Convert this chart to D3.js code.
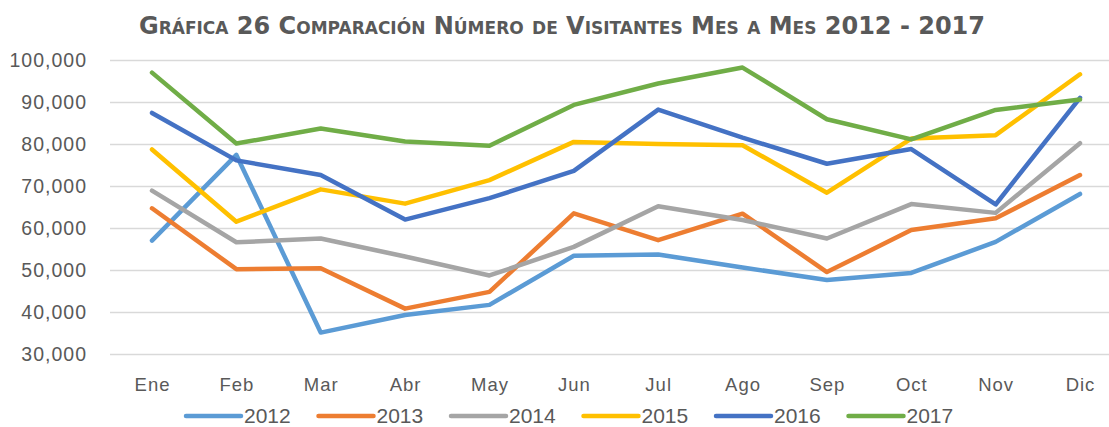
<!DOCTYPE html>
<html>
<head>
<meta charset="utf-8">
<script src="https://cdn.jsdelivr.net/npm/d3@7"></script>
<style>
  body { margin: 0; background: #fff; }
  svg { display: block; }
</style>
</head>
<body>
<div id="chart"></div>
<script>
// data
var months = ["Ene", "Feb", "Mar", "Abr", "May", "Jun", "Jul", "Ago", "Sep", "Oct", "Nov", "Dic"];
var years = ["2012", "2013", "2014", "2015", "2016", "2017"];
var v2012 = [57000, 77400, 35100, 39300, 41700, 53400, 53700, 50600, 47600, 49300, 56700, 68100];
var v2013 = [64700, 50200, 50400, 40800, 44800, 63500, 57100, 63400, 49500, 59500, 62300, 72600];
var v2014 = [68900, 56600, 57500, 53200, 48700, 55500, 65200, 61900, 57500, 65700, 63600, 80200];
var v2015 = [78700, 61500, 69200, 65800, 71400, 80500, 80000, 79700, 68400, 81300, 82100, 96600];
var v2016 = [87400, 76100, 72600, 62000, 67100, 73600, 88200, 81500, 75300, 78800, 65600, 91000];
var v2017 = [97000, 80100, 83700, 80600, 79600, 89300, 94400, 98200, 85900, 81100, 88100, 90600];
var yTicks = [30000, 40000, 50000, 60000, 70000, 80000, 90000, 100000];
var colors = ["#5B9BD5", "#ED7D31", "#A5A5A5", "#FFC000", "#4472C4", "#70AD47"];

var W = 1109, H = 427;
var textColor = "#595959";

var svg = d3.select("#chart").append("svg")
    .attr("width", W)
    .attr("height", H);

var x = d3.scalePoint().domain(months).range([152, 1080]);
var y = d3.scaleLinear().domain([30000, 100000]).range([354, 60]);

// title
svg.append("text")
    .attr("x", 562)
    .attr("y", 34)
    .attr("text-anchor", "middle")
    .style("font-family", "'DejaVu Sans', sans-serif")
    .style("font-weight", "bold")
    .style("font-variant", "small-caps")
    .style("font-size", "24px")
    .style("fill", textColor)
    .text("Gráfica 26 Comparación Número de Visitantes Mes a Mes 2012 - 2017");

// y axis with gridlines
var yAxis = svg.append("g")
    .attr("transform", "translate(110,0)")
    .call(d3.axisLeft(y).tickValues(yTicks).tickSize(-(W - 110)).tickPadding(23)
        .tickFormat(d3.format(",")));
yAxis.select(".domain").remove();
yAxis.selectAll("line").attr("stroke", "#d9d9d9").attr("stroke-width", 1.3);
yAxis.selectAll("text")
    .style("font-family", "'Liberation Sans', Arial, sans-serif")
    .style("font-size", "19.5px")
    .style("letter-spacing", "1px")
    .style("fill", textColor);

// x axis labels
var xAxis = svg.append("g")
    .attr("transform", "translate(0,354)")
    .call(d3.axisBottom(x).tickSize(0).tickPadding(24));
xAxis.select(".domain").remove();
xAxis.selectAll("text")
    .style("font-family", "'Liberation Sans', Arial, sans-serif")
    .style("font-size", "18.5px")
    .style("letter-spacing", "1px")
    .style("fill", textColor);

// lines
var series = [v2012, v2013, v2014, v2015, v2016, v2017];
var line = d3.line()
    .x(function (d, i) { return x(months[i]); })
    .y(function (d) { return y(d); });

svg.selectAll(".serie")
    .data(series)
    .enter()
    .append("path")
    .attr("class", "serie")
    .attr("d", line)
    .attr("fill", "none")
    .attr("stroke", function (d, i) { return colors[i]; })
    .attr("stroke-width", 4.5)
    .attr("stroke-linecap", "round")
    .attr("stroke-linejoin", "round");

// legend
var legend = svg.selectAll(".legend")
    .data(years)
    .enter()
    .append("g")
    .attr("class", "legend")
    .attr("transform", function (d, i) { return "translate(" + (186 + i * 132.5) + ",0)"; });

legend.append("line")
    .attr("x1", 0).attr("x2", 55)
    .attr("y1", 416).attr("y2", 416)
    .attr("stroke", function (d, i) { return colors[i]; })
    .attr("stroke-width", 4.5)
    .attr("stroke-linecap", "round");

legend.append("text")
    .attr("x", 58)
    .attr("y", 423)
    .style("font-family", "'Liberation Sans', Arial, sans-serif")
    .style("font-size", "21px")
    .style("fill", textColor)
    .text(function (d) { return d; });
</script>
</body>
</html>
